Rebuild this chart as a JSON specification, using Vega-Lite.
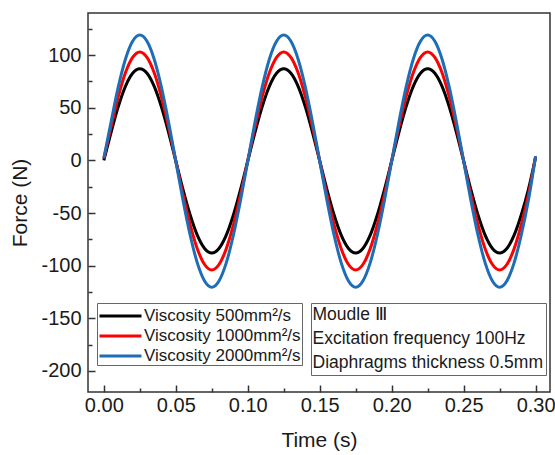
{
  "$schema": "https://vega.github.io/schema/vega-lite/v6.json",
  "width": 462,
  "height": 379,
  "autosize": "none",
  "padding": {"left": 88, "top": 13, "right": 5, "bottom": 63},
  "background": "white",
  "config": {
    "font": "Liberation Sans",
    "view": {"stroke": "#333333", "strokeWidth": 1.5},
    "axis": {"labelColor": "#1a1a1a", "titleColor": "#1a1a1a", "titleFontWeight": "normal", "labelFont": "Liberation Sans", "titleFont": "Liberation Sans"},
    "legend": {"labelFont": "Liberation Sans"}
  },
  "datasets": {
    "curves": [
      {"t":0,"f":0,"s":"Viscosity 500mm²/s"},{"t":0.005,"f":26.5,"s":"Viscosity 500mm²/s"},{"t":0.01,"f":50.9,"s":"Viscosity 500mm²/s"},{"t":0.015,"f":70.3,"s":"Viscosity 500mm²/s"},{"t":0.02,"f":82.7,"s":"Viscosity 500mm²/s"},{"t":0.025,"f":87,"s":"Viscosity 500mm²/s"},{"t":0.03,"f":82.7,"s":"Viscosity 500mm²/s"},{"t":0.035,"f":70.3,"s":"Viscosity 500mm²/s"},{"t":0.04,"f":50.9,"s":"Viscosity 500mm²/s"},{"t":0.045,"f":26.5,"s":"Viscosity 500mm²/s"},
      {"t":0.05,"f":-0.5,"s":"Viscosity 500mm²/s"},{"t":0.055,"f":-27.5,"s":"Viscosity 500mm²/s"},{"t":0.06,"f":-51.9,"s":"Viscosity 500mm²/s"},{"t":0.065,"f":-71.3,"s":"Viscosity 500mm²/s"},{"t":0.07,"f":-83.7,"s":"Viscosity 500mm²/s"},{"t":0.075,"f":-88,"s":"Viscosity 500mm²/s"},{"t":0.08,"f":-83.7,"s":"Viscosity 500mm²/s"},{"t":0.085,"f":-71.3,"s":"Viscosity 500mm²/s"},{"t":0.09,"f":-51.9,"s":"Viscosity 500mm²/s"},{"t":0.095,"f":-27.5,"s":"Viscosity 500mm²/s"},
      {"t":0.1,"f":-0.5,"s":"Viscosity 500mm²/s"},{"t":0.105,"f":26.5,"s":"Viscosity 500mm²/s"},{"t":0.11,"f":50.9,"s":"Viscosity 500mm²/s"},{"t":0.115,"f":70.3,"s":"Viscosity 500mm²/s"},{"t":0.12,"f":82.7,"s":"Viscosity 500mm²/s"},{"t":0.125,"f":87,"s":"Viscosity 500mm²/s"},{"t":0.13,"f":82.7,"s":"Viscosity 500mm²/s"},{"t":0.135,"f":70.3,"s":"Viscosity 500mm²/s"},{"t":0.14,"f":50.9,"s":"Viscosity 500mm²/s"},{"t":0.145,"f":26.5,"s":"Viscosity 500mm²/s"},
      {"t":0.15,"f":-0.5,"s":"Viscosity 500mm²/s"},{"t":0.155,"f":-27.5,"s":"Viscosity 500mm²/s"},{"t":0.16,"f":-51.9,"s":"Viscosity 500mm²/s"},{"t":0.165,"f":-71.3,"s":"Viscosity 500mm²/s"},{"t":0.17,"f":-83.7,"s":"Viscosity 500mm²/s"},{"t":0.175,"f":-88,"s":"Viscosity 500mm²/s"},{"t":0.18,"f":-83.7,"s":"Viscosity 500mm²/s"},{"t":0.185,"f":-71.3,"s":"Viscosity 500mm²/s"},{"t":0.19,"f":-51.9,"s":"Viscosity 500mm²/s"},{"t":0.195,"f":-27.5,"s":"Viscosity 500mm²/s"},
      {"t":0.2,"f":-0.5,"s":"Viscosity 500mm²/s"},{"t":0.205,"f":26.5,"s":"Viscosity 500mm²/s"},{"t":0.21,"f":50.9,"s":"Viscosity 500mm²/s"},{"t":0.215,"f":70.3,"s":"Viscosity 500mm²/s"},{"t":0.22,"f":82.7,"s":"Viscosity 500mm²/s"},{"t":0.225,"f":87,"s":"Viscosity 500mm²/s"},{"t":0.23,"f":82.7,"s":"Viscosity 500mm²/s"},{"t":0.235,"f":70.3,"s":"Viscosity 500mm²/s"},{"t":0.24,"f":50.9,"s":"Viscosity 500mm²/s"},{"t":0.245,"f":26.5,"s":"Viscosity 500mm²/s"},
      {"t":0.25,"f":-0.5,"s":"Viscosity 500mm²/s"},{"t":0.255,"f":-27.5,"s":"Viscosity 500mm²/s"},{"t":0.26,"f":-51.9,"s":"Viscosity 500mm²/s"},{"t":0.265,"f":-71.3,"s":"Viscosity 500mm²/s"},{"t":0.27,"f":-83.7,"s":"Viscosity 500mm²/s"},{"t":0.275,"f":-88,"s":"Viscosity 500mm²/s"},{"t":0.28,"f":-83.7,"s":"Viscosity 500mm²/s"},{"t":0.285,"f":-71.3,"s":"Viscosity 500mm²/s"},{"t":0.29,"f":-51.9,"s":"Viscosity 500mm²/s"},{"t":0.295,"f":-27.5,"s":"Viscosity 500mm²/s"},{"t":0.3,"f":3,"s":"Viscosity 500mm²/s"},

      {"t":0,"f":2,"s":"Viscosity 1000mm²/s"},{"t":0.005,"f":31.5,"s":"Viscosity 1000mm²/s"},{"t":0.01,"f":60.3,"s":"Viscosity 1000mm²/s"},{"t":0.015,"f":83.2,"s":"Viscosity 1000mm²/s"},{"t":0.02,"f":97.9,"s":"Viscosity 1000mm²/s"},{"t":0.025,"f":103,"s":"Viscosity 1000mm²/s"},{"t":0.03,"f":97.9,"s":"Viscosity 1000mm²/s"},{"t":0.035,"f":83.2,"s":"Viscosity 1000mm²/s"},{"t":0.04,"f":60.3,"s":"Viscosity 1000mm²/s"},{"t":0.045,"f":31.5,"s":"Viscosity 1000mm²/s"},
      {"t":0.05,"f":-0.5,"s":"Viscosity 1000mm²/s"},{"t":0.055,"f":-32.5,"s":"Viscosity 1000mm²/s"},{"t":0.06,"f":-61.3,"s":"Viscosity 1000mm²/s"},{"t":0.065,"f":-84.2,"s":"Viscosity 1000mm²/s"},{"t":0.07,"f":-98.9,"s":"Viscosity 1000mm²/s"},{"t":0.075,"f":-104,"s":"Viscosity 1000mm²/s"},{"t":0.08,"f":-98.9,"s":"Viscosity 1000mm²/s"},{"t":0.085,"f":-84.2,"s":"Viscosity 1000mm²/s"},{"t":0.09,"f":-61.3,"s":"Viscosity 1000mm²/s"},{"t":0.095,"f":-32.5,"s":"Viscosity 1000mm²/s"},
      {"t":0.1,"f":-0.5,"s":"Viscosity 1000mm²/s"},{"t":0.105,"f":31.5,"s":"Viscosity 1000mm²/s"},{"t":0.11,"f":60.3,"s":"Viscosity 1000mm²/s"},{"t":0.115,"f":83.2,"s":"Viscosity 1000mm²/s"},{"t":0.12,"f":97.9,"s":"Viscosity 1000mm²/s"},{"t":0.125,"f":103,"s":"Viscosity 1000mm²/s"},{"t":0.13,"f":97.9,"s":"Viscosity 1000mm²/s"},{"t":0.135,"f":83.2,"s":"Viscosity 1000mm²/s"},{"t":0.14,"f":60.3,"s":"Viscosity 1000mm²/s"},{"t":0.145,"f":31.5,"s":"Viscosity 1000mm²/s"},
      {"t":0.15,"f":-0.5,"s":"Viscosity 1000mm²/s"},{"t":0.155,"f":-32.5,"s":"Viscosity 1000mm²/s"},{"t":0.16,"f":-61.3,"s":"Viscosity 1000mm²/s"},{"t":0.165,"f":-84.2,"s":"Viscosity 1000mm²/s"},{"t":0.17,"f":-98.9,"s":"Viscosity 1000mm²/s"},{"t":0.175,"f":-104,"s":"Viscosity 1000mm²/s"},{"t":0.18,"f":-98.9,"s":"Viscosity 1000mm²/s"},{"t":0.185,"f":-84.2,"s":"Viscosity 1000mm²/s"},{"t":0.19,"f":-61.3,"s":"Viscosity 1000mm²/s"},{"t":0.195,"f":-32.5,"s":"Viscosity 1000mm²/s"},
      {"t":0.2,"f":-0.5,"s":"Viscosity 1000mm²/s"},{"t":0.205,"f":31.5,"s":"Viscosity 1000mm²/s"},{"t":0.21,"f":60.3,"s":"Viscosity 1000mm²/s"},{"t":0.215,"f":83.2,"s":"Viscosity 1000mm²/s"},{"t":0.22,"f":97.9,"s":"Viscosity 1000mm²/s"},{"t":0.225,"f":103,"s":"Viscosity 1000mm²/s"},{"t":0.23,"f":97.9,"s":"Viscosity 1000mm²/s"},{"t":0.235,"f":83.2,"s":"Viscosity 1000mm²/s"},{"t":0.24,"f":60.3,"s":"Viscosity 1000mm²/s"},{"t":0.245,"f":31.5,"s":"Viscosity 1000mm²/s"},
      {"t":0.25,"f":-0.5,"s":"Viscosity 1000mm²/s"},{"t":0.255,"f":-32.5,"s":"Viscosity 1000mm²/s"},{"t":0.26,"f":-61.3,"s":"Viscosity 1000mm²/s"},{"t":0.265,"f":-84.2,"s":"Viscosity 1000mm²/s"},{"t":0.27,"f":-98.9,"s":"Viscosity 1000mm²/s"},{"t":0.275,"f":-104,"s":"Viscosity 1000mm²/s"},{"t":0.28,"f":-98.9,"s":"Viscosity 1000mm²/s"},{"t":0.285,"f":-84.2,"s":"Viscosity 1000mm²/s"},{"t":0.29,"f":-61.3,"s":"Viscosity 1000mm²/s"},{"t":0.295,"f":-32.5,"s":"Viscosity 1000mm²/s"},{"t":0.3,"f":4,"s":"Viscosity 1000mm²/s"},

      {"t":0,"f":2,"s":"Viscosity 2000mm²/s"},{"t":0.005,"f":36.3,"s":"Viscosity 2000mm²/s"},{"t":0.01,"f":69.6,"s":"Viscosity 2000mm²/s"},{"t":0.015,"f":96.1,"s":"Viscosity 2000mm²/s"},{"t":0.02,"f":113.1,"s":"Viscosity 2000mm²/s"},{"t":0.025,"f":119,"s":"Viscosity 2000mm²/s"},{"t":0.03,"f":113.1,"s":"Viscosity 2000mm²/s"},{"t":0.035,"f":96.1,"s":"Viscosity 2000mm²/s"},{"t":0.04,"f":69.6,"s":"Viscosity 2000mm²/s"},{"t":0.045,"f":36.3,"s":"Viscosity 2000mm²/s"},
      {"t":0.05,"f":-0.75,"s":"Viscosity 2000mm²/s"},{"t":0.055,"f":-37.8,"s":"Viscosity 2000mm²/s"},{"t":0.06,"f":-71.1,"s":"Viscosity 2000mm²/s"},{"t":0.065,"f":-97.6,"s":"Viscosity 2000mm²/s"},{"t":0.07,"f":-114.6,"s":"Viscosity 2000mm²/s"},{"t":0.075,"f":-120.5,"s":"Viscosity 2000mm²/s"},{"t":0.08,"f":-114.6,"s":"Viscosity 2000mm²/s"},{"t":0.085,"f":-97.6,"s":"Viscosity 2000mm²/s"},{"t":0.09,"f":-71.1,"s":"Viscosity 2000mm²/s"},{"t":0.095,"f":-37.8,"s":"Viscosity 2000mm²/s"},
      {"t":0.1,"f":-0.75,"s":"Viscosity 2000mm²/s"},{"t":0.105,"f":36.3,"s":"Viscosity 2000mm²/s"},{"t":0.11,"f":69.6,"s":"Viscosity 2000mm²/s"},{"t":0.115,"f":96.1,"s":"Viscosity 2000mm²/s"},{"t":0.12,"f":113.1,"s":"Viscosity 2000mm²/s"},{"t":0.125,"f":119,"s":"Viscosity 2000mm²/s"},{"t":0.13,"f":113.1,"s":"Viscosity 2000mm²/s"},{"t":0.135,"f":96.1,"s":"Viscosity 2000mm²/s"},{"t":0.14,"f":69.6,"s":"Viscosity 2000mm²/s"},{"t":0.145,"f":36.3,"s":"Viscosity 2000mm²/s"},
      {"t":0.15,"f":-0.75,"s":"Viscosity 2000mm²/s"},{"t":0.155,"f":-37.8,"s":"Viscosity 2000mm²/s"},{"t":0.16,"f":-71.1,"s":"Viscosity 2000mm²/s"},{"t":0.165,"f":-97.6,"s":"Viscosity 2000mm²/s"},{"t":0.17,"f":-114.6,"s":"Viscosity 2000mm²/s"},{"t":0.175,"f":-120.5,"s":"Viscosity 2000mm²/s"},{"t":0.18,"f":-114.6,"s":"Viscosity 2000mm²/s"},{"t":0.185,"f":-97.6,"s":"Viscosity 2000mm²/s"},{"t":0.19,"f":-71.1,"s":"Viscosity 2000mm²/s"},{"t":0.195,"f":-37.8,"s":"Viscosity 2000mm²/s"},
      {"t":0.2,"f":-0.75,"s":"Viscosity 2000mm²/s"},{"t":0.205,"f":36.3,"s":"Viscosity 2000mm²/s"},{"t":0.21,"f":69.6,"s":"Viscosity 2000mm²/s"},{"t":0.215,"f":96.1,"s":"Viscosity 2000mm²/s"},{"t":0.22,"f":113.1,"s":"Viscosity 2000mm²/s"},{"t":0.225,"f":119,"s":"Viscosity 2000mm²/s"},{"t":0.23,"f":113.1,"s":"Viscosity 2000mm²/s"},{"t":0.235,"f":96.1,"s":"Viscosity 2000mm²/s"},{"t":0.24,"f":69.6,"s":"Viscosity 2000mm²/s"},{"t":0.245,"f":36.3,"s":"Viscosity 2000mm²/s"},
      {"t":0.25,"f":-0.75,"s":"Viscosity 2000mm²/s"},{"t":0.255,"f":-37.8,"s":"Viscosity 2000mm²/s"},{"t":0.26,"f":-71.1,"s":"Viscosity 2000mm²/s"},{"t":0.265,"f":-97.6,"s":"Viscosity 2000mm²/s"},{"t":0.27,"f":-114.6,"s":"Viscosity 2000mm²/s"},{"t":0.275,"f":-120.5,"s":"Viscosity 2000mm²/s"},{"t":0.28,"f":-114.6,"s":"Viscosity 2000mm²/s"},{"t":0.285,"f":-97.6,"s":"Viscosity 2000mm²/s"},{"t":0.29,"f":-71.1,"s":"Viscosity 2000mm²/s"},{"t":0.295,"f":-37.8,"s":"Viscosity 2000mm²/s"},{"t":0.3,"f":4,"s":"Viscosity 2000mm²/s"}
    ],
    "notes": [
      {"n": "Moudle Ⅲ"},
      {"n": "Excitation frequency 100Hz"},
      {"n": "Diaphragms thickness 0.5mm"}
    ]
  },
  "layer": [
    {
      "data": {"name": "curves"},
      "mark": {"type": "line", "interpolate": "cardinal", "strokeWidth": 3},
      "encoding": {
        "x": {
          "field": "t", "type": "quantitative",
          "scale": {"domain": [-0.011, 0.31], "nice": false, "zero": false},
          "axis": {
            "title": "Time (s)", "titleFontSize": 21, "titlePadding": 11,
            "values": [0, 0.025, 0.05, 0.075, 0.1, 0.125, 0.15, 0.175, 0.2, 0.225, 0.25, 0.275, 0.3],
            "labelExpr": "abs(round(datum.value*1000)%50)==0 ? format(datum.value, '.2f') : ''",
            "labelFontSize": 20, "labelPadding": 10, "labelFlush": false, "labelOverlap": false,
            "grid": false, "domain": false,
            "tickColor": "#333333", "tickWidth": 1.5,
            "tickSize": {"condition": {"test": "abs(round(datum.value*1000)%50)==0", "value": -7}, "value": -4}
          }
        },
        "y": {
          "field": "f", "type": "quantitative",
          "scale": {"domain": [-220, 140], "nice": false, "zero": false},
          "axis": {
            "title": "Force (N)", "titleFontSize": 21, "titlePadding": 10,
            "values": [-200, -175, -150, -125, -100, -75, -50, -25, 0, 25, 50, 75, 100, 125],
            "labelExpr": "datum.value % 50 == 0 ? '' + datum.value : ''",
            "labelFontSize": 20, "labelPadding": 14, "labelOverlap": false,
            "grid": false, "domain": false,
            "tickColor": "#333333", "tickWidth": 1.5,
            "tickSize": {"condition": {"test": "datum.value % 50 == 0", "value": -7}, "value": -4}
          }
        },
        "color": {
          "field": "s", "type": "nominal",
          "scale": {
            "domain": ["Viscosity 500mm²/s", "Viscosity 1000mm²/s", "Viscosity 2000mm²/s"],
            "range": ["#000000", "#ff0000", "#1f6db5"]
          },
          "legend": {
            "orient": "none", "legendX": 9, "legendY": 290, "title": null,
            "symbolType": "M-1,0L3,0", "symbolSize": 441, "symbolStrokeWidth": 3,
            "labelFontSize": 17, "labelColor": "#1a1a1a", "labelOffset": 22, "labelLimit": 400,
            "padding": 1, "rowPadding": -2, "strokeColor": "#666666"
          }
        }
      }
    },
    {
      "data": {"name": "notes"},
      "mark": {"type": "point", "opacity": 0},
      "encoding": {
        "shape": {
          "field": "n", "type": "nominal",
          "scale": {"domain": ["Moudle Ⅲ", "Excitation frequency 100Hz", "Diaphragms thickness 0.5mm"]},
          "legend": {
            "orient": "none", "legendX": 223, "legendY": 290, "title": null,
            "symbolSize": 0, "symbolOpacity": 0, "symbolStrokeWidth": 0,
            "labelFontSize": 17.5, "labelColor": "#1a1a1a", "labelOffset": -19, "labelLimit": 400,
            "padding": 3, "rowPadding": 5, "strokeColor": "#666666"
          }
        }
      }
    }
  ]
}
